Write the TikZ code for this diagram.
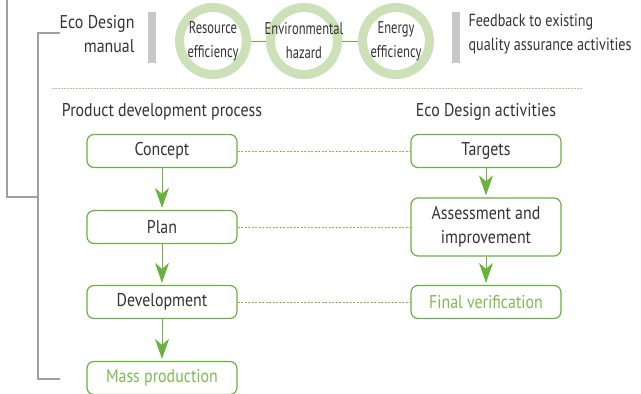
\documentclass[tikz,border=0pt]{standalone}
\usepackage{fontspec}
\setmainfont[FakeStretch=0.86]{PT Sans}
\newfontfamily\ringfont[FakeStretch=0.74]{PT Sans}
\newfontfamily\notefont[FakeStretch=0.81]{PT Sans}
\usepackage{xcolor}
\usetikzlibrary{arrows.meta,positioning,calc}

\definecolor{ecogreen}{HTML}{6AB23E}
\definecolor{ecolight}{HTML}{7DBB52}
\definecolor{ringgreen}{HTML}{CCE1B8}
\definecolor{dotgreen}{HTML}{A8D08C}
\definecolor{bargray}{HTML}{C9C9C9}
\definecolor{txtgray}{HTML}{333333}
\definecolor{linegray}{HTML}{A0A0A0}

\begin{document}
\begin{tikzpicture}[x=1pt,y=-1pt,
	every node/.style={text=txtgray,font=\fontsize{18.5}{24}\selectfont},
	stepbox/.style={draw=ecogreen,line width=1.2pt,rounded corners=7pt,
		minimum width=150pt,minimum height=33pt,inner sep=2pt,align=center},
	ring/.style={circle,draw=ringgreen,line width=9pt,minimum size=67pt,inner sep=0pt},
	ringtext/.style={align=center,font=\ringfont\fontsize{17}{24}\selectfont},
	bar/.style={fill=bargray,minimum width=8pt,minimum height=51pt,inner sep=0pt},
	flow/.style={draw=ecogreen,line width=1pt,shorten >=2pt,
		-{Stealth[length=20pt,width=14pt,inset=6pt]}},
	dotline/.style={draw=ecolight,line width=0.9pt,dash pattern=on 2pt off 1.5pt},
	bracket/.style={draw=linegray,line width=1.2pt}]
	\useasboundingbox (0,0) rectangle (641,394);

	% top row: manual, three aspects, feedback
	\node[anchor=east,align=right] (manual) at (138,34) {Eco Design\\manual};
	\node[bar] (barl) at (152,37) {};
	\node[ring] (res) at (213,41) {};
	\node[ring] (env) at (304,41) {};
	\node[ring] (ene) at (396,41) {};
	\node[ringtext] (restext) at (res) {Resource\\efficiency};
	\node[ringtext] (envtext) at (env) {Environmental\\hazard};
	\node[ringtext] (enetext) at (ene) {Energy\\efficiency};
	\node[bar] (barr) at (456,37) {};
	\node[anchor=west,align=left,font=\notefont\fontsize{17.5}{24}\selectfont] (feedback) at (465,34)
		{Feedback to existing\\quality assurance activities};

	\draw[ecogreen,line width=1pt] (res) -- (env);
	\draw[ecogreen,line width=1pt] (env) -- (ene);

	\draw[dotgreen,line width=0.9pt,dash pattern=on 1.5pt off 1.5pt] (52,88) -- (583,88);

	% column headings
	\node (pdp) at (162,112) {Product development process};
	\node (eda) at (486,112) {Eco Design activities};

	% product development process
	\node[stepbox] (concept) at (162,151) {Concept};
	\node[stepbox] (plan) at (162,227) {Plan};
	\node[stepbox] (develop) at (162,302) {Development};
	\node[stepbox,text=ecolight] (mass) at (162,378) {Mass production};

	% eco design activities
	\node[stepbox] (targets) at (486,151) {Targets};
	\node[stepbox,minimum height=58pt] (assess) at (486,227) {Assessment and\\improvement};
	\node[stepbox,text=ecolight] (final) at (486,302) {Final verification};

	\draw[flow] (concept) -- (plan);
	\draw[flow] (plan) -- (develop);
	\draw[flow] (develop) -- (mass);
	\draw[flow] (targets) -- (assess);
	\draw[flow] (assess) -- (final);

	\draw[dotline] (concept) -- (targets);
	\draw[dotline] (plan) -- (assess);
	\draw[dotline] (develop) -- (final);

	% bracket on the left
	\coordinate (btop) at (60,33);
	\coordinate (bbot) at (60,379);
	\coordinate (bjoin) at (38,197);
	\draw[bracket] (btop) -- (38,33) -- (38,379) -- (bbot);
	\draw[bracket] (7,0) -- (7,197) -- (bjoin);
\end{tikzpicture}
\end{document}
